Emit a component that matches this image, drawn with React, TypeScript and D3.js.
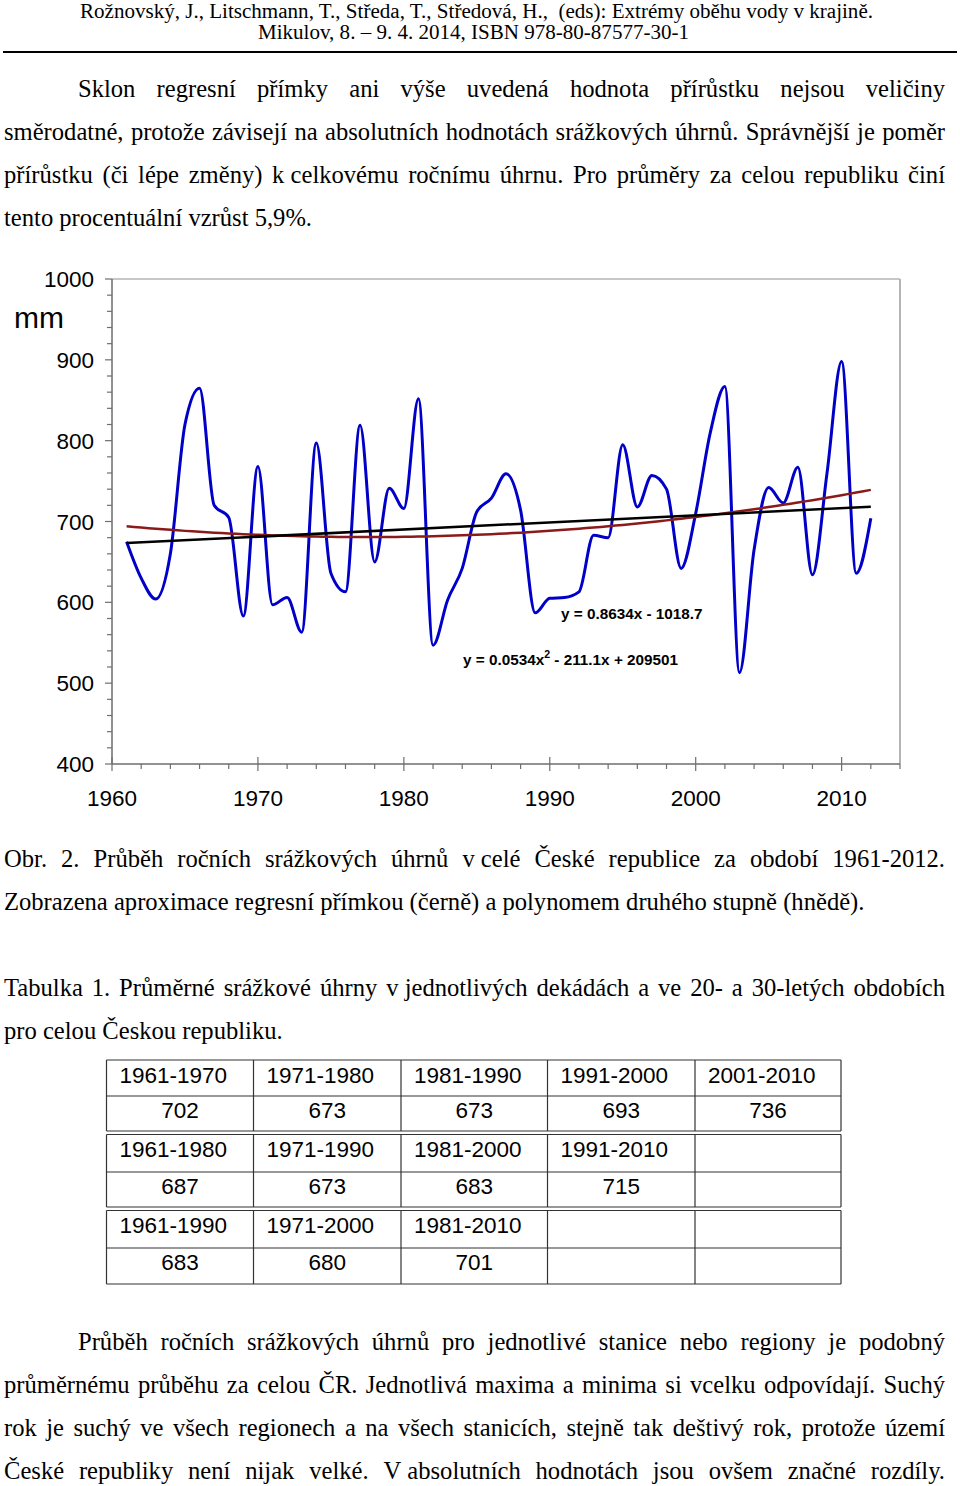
import React, { useMemo } from 'react';
import * as d3 from 'd3';

// ---------------- DATA ----------------
const startYear = 1961;
const precip = [
  675, 630, 604, 660, 820, 865, 720, 705, 583, 768,
  597, 606, 563, 797, 636, 613, 819, 650, 741, 716,
  852, 547, 603, 642, 712, 729, 759, 714, 587, 605,
  606, 613, 683, 680, 795, 718, 757, 740, 642, 710,
  810, 867, 513, 665, 742, 723, 767, 634, 760, 898,
  636, 704,
];
const yMajorTicks = [400, 500, 600, 700, 800, 900, 1000];
const xMajorTicks = [1960, 1970, 1980, 1990, 2000, 2010];
const linEquation = 'y = 0.8634x - 1018.7';
const polyEqParts = ['y = 0.0534x', '2', ' - 211.1x + 209501'];

const tableHeaders = [
  ['1961-1970', '1971-1980', '1981-1990', '1991-2000', '2001-2010'],
  ['1961-1980', '1971-1990', '1981-2000', '1991-2010', ''],
  ['1961-1990', '1971-2000', '1981-2010', '', ''],
];
const tableValues = [
  ['702', '673', '673', '693', '736'],
  ['687', '673', '683', '715', ''],
  ['683', '680', '701', '', ''],
];

const headerLine1 = 'Rožnovský, J., Litschmann, T., Středa, T., Středová, H.,  (eds): Extrémy oběhu vody v krajině.';
const headerLine2 = 'Mikulov, 8. – 9. 4. 2014, ISBN 978-80-87577-30-1';

const para1 = [
  'Sklon regresní přímky ani výše uvedená hodnota přírůstku nejsou veličiny',
  'směrodatné, protože závisejí na absolutních hodnotách srážkových úhrnů. Správnější je poměr',
  'přírůstku (či lépe změny) k\u00a0celkovému ročnímu úhrnu. Pro průměry za celou republiku činí',
  'tento procentuální vzrůst 5,9%.',
];
const caption = [
  'Obr. 2. Průběh ročních srážkových úhrnů v\u00a0celé České republice za období 1961-2012.',
  'Zobrazena aproximace regresní přímkou (černě) a polynomem druhého stupně (hnědě).',
];
const tableCaption = [
  'Tabulka 1. Průměrné srážkové úhrny v\u00a0jednotlivých dekádách a ve 20- a 30-letých obdobích',
  'pro celou Českou republiku.',
];
const para2 = [
  'Průběh ročních srážkových úhrnů pro jednotlivé stanice nebo regiony je podobný',
  'průměrnému průběhu za celou ČR. Jednotlivá maxima a minima si vcelku odpovídají. Suchý',
  'rok je suchý ve všech regionech a na všech stanicích, stejně tak deštivý rok, protože území',
  'České republiky není nijak velké. V\u00a0absolutních hodnotách jsou ovšem značné rozdíly.',
];

// ---------------- HELPERS ----------------
const SERIF = "'Liberation Serif', 'Times New Roman', serif";
const SANS = "'Liberation Sans', Arial, sans-serif";
const BODY_SIZE = 24.6;

let _ctx: CanvasRenderingContext2D | null = null;
function measure(text: string, font: string) {
  if (!_ctx) _ctx = document.createElement('canvas').getContext('2d');
  _ctx!.font = font;
  return _ctx!.measureText(text).width;
}

function Line({ text, x0, x1, y, justify }: { text: string; x0: number; x1: number; y: number; justify: boolean }) {
  if (!justify) {
    return (
      <text x={x0} y={y} fontFamily={SERIF} fontSize={BODY_SIZE} fill="#000" style={{ whiteSpace: 'pre' }}>
        {text}
      </text>
    );
  }
  const font = `${BODY_SIZE}px ${SERIF}`;
  const words = text.split(' ');
  const widths = words.map((w) => measure(w, font));
  const total = d3.sum(widths);
  const gap = words.length > 1 ? (x1 - x0 - total) / (words.length - 1) : 0;
  let x = x0;
  return (
    <g>
      {words.map((w, i) => {
        const el = (
          <text key={i} x={x} y={y} fontFamily={SERIF} fontSize={BODY_SIZE} fill="#000" style={{ whiteSpace: 'pre' }}>
            {w}
          </text>
        );
        x += widths[i] + gap;
        return el;
      })}
    </g>
  );
}

function linearFit(xs: number[], ys: number[]) {
  const mx = d3.mean(xs)!;
  const my = d3.mean(ys)!;
  let sxy = 0, sxx = 0;
  xs.forEach((x, i) => { sxy += (x - mx) * (ys[i] - my); sxx += (x - mx) * (x - mx); });
  const b = sxy / sxx;
  return (x: number) => my + b * (x - mx);
}

function quadFit(xs: number[], ys: number[]) {
  const mx = d3.mean(xs)!;
  const t = xs.map((x) => x - mx);
  const S = (p: number) => d3.sum(t, (v) => Math.pow(v, p));
  const Sy = (p: number) => d3.sum(t, (v, i) => Math.pow(v, p) * ys[i]);
  const A = [
    [S(0), S(1), S(2)],
    [S(1), S(2), S(3)],
    [S(2), S(3), S(4)],
  ];
  const B = [Sy(0), Sy(1), Sy(2)];
  const det = (m: number[][]) =>
    m[0][0] * (m[1][1] * m[2][2] - m[1][2] * m[2][1]) -
    m[0][1] * (m[1][0] * m[2][2] - m[1][2] * m[2][0]) +
    m[0][2] * (m[1][0] * m[2][1] - m[1][1] * m[2][0]);
  const D = det(A);
  const coef = [0, 1, 2].map((k) => {
    const M = A.map((row, r) => row.map((v, c) => (c === k ? B[r] : v)));
    return det(M) / D;
  });
  return (x: number) => coef[0] + coef[1] * (x - mx) + coef[2] * (x - mx) * (x - mx);
}

// ---------------- CHART ----------------
function Chart() {
  const x = d3.scaleLinear().domain([1960, 2014]).range([112, 900]);
  const y = d3.scaleLinear().domain([400, 1000]).range([764, 279]);
  const years = precip.map((_, i) => startYear + i);
  const pts: [number, number][] = years.map((yr, i) => [yr, precip[i]]);

  const lineGen = d3
    .line<[number, number]>()
    .x((d) => x(d[0]))
    .y((d) => y(d[1]))
    .curve(d3.curveMonotoneX);
  const plainLine = d3
    .line<[number, number]>()
    .x((d) => x(d[0]))
    .y((d) => y(d[1]));

  const lin = linearFit(years, precip);
  const quad = quadFit(years, precip);
  const y0 = years[0];
  const y1 = years[years.length - 1];
  const samples = d3.range(y0, y1 + 0.001, 0.5);
  const linPts: [number, number][] = [[y0, lin(y0)], [y1, lin(y1)]];
  const quadPts: [number, number][] = samples.map((s) => [s, quad(s)]);

  const yMinor = d3.range(400, 1001, 20);
  const xMinor = d3.range(1960, 2015, 2);

  const axisColor = '#6e6e6e';
  const frameColor = '#b4b4b4';

  return (
    <g>
      {/* frame */}
      <line x1={x(1960)} x2={x(2014)} y1={y(1000)} y2={y(1000)} stroke={frameColor} strokeWidth={1.5} />
      <line x1={x(2014)} x2={x(2014)} y1={y(1000)} y2={y(400)} stroke={frameColor} strokeWidth={2} />
      {/* axes */}
      <line x1={x(1960)} x2={x(1960)} y1={y(1000)} y2={y(400)} stroke={axisColor} strokeWidth={1.5} />
      <line x1={x(1960)} x2={x(2014)} y1={y(400)} y2={y(400)} stroke={axisColor} strokeWidth={1.5} />
      {yMinor.map((v) => (
        <line key={'ym' + v} x1={x(1960) - (v % 100 === 0 ? 7 : 5)} x2={x(1960)} y1={y(v)} y2={y(v)} stroke={axisColor} strokeWidth={1.2} />
      ))}
      {xMinor.map((v) => (
        <line key={'xm' + v} x1={x(v)} x2={x(v)} y1={y(400) + (v % 10 === 0 ? -7 : 0)} y2={y(400) + (v % 10 === 0 ? 7 : 5)} stroke={axisColor} strokeWidth={1.2} />
      ))}
      {yMajorTicks.map((v) => (
        <text key={'yl' + v} x={94} y={y(v) + 8} textAnchor="end" fontFamily={SANS} fontSize={22.5} fill="#000">
          {v}
        </text>
      ))}
      {xMajorTicks.map((v) => (
        <text key={'xl' + v} x={x(v)} y={806} textAnchor="middle" fontFamily={SANS} fontSize={22.5} fill="#000">
          {v}
        </text>
      ))}
      <text x={14} y={328} fontFamily={SANS} fontSize={30} fill="#000">mm</text>

      {/* series */}
      <path d={lineGen(pts)!} fill="none" stroke="#0000c8" strokeWidth={3} strokeLinejoin="round" />
      <path d={plainLine(quadPts)!} fill="none" stroke="#8b1a1a" strokeWidth={2.5} />
      <path d={plainLine(linPts)!} fill="none" stroke="#000" strokeWidth={2.5} />

      {/* equations */}
      <text x={561} y={619} fontFamily={SANS} fontWeight="bold" fontSize={15.3} fill="#000" style={{ whiteSpace: 'pre' }}>
        {linEquation}
      </text>
      <text x={463} y={665} fontFamily={SANS} fontWeight="bold" fontSize={15.3} fill="#000" style={{ whiteSpace: 'pre' }}>
        {polyEqParts[0]}
        <tspan dy={-7} fontSize={10.5}>{polyEqParts[1]}</tspan>
        <tspan dy={7}>{polyEqParts[2]}</tspan>
      </text>
    </g>
  );
}

// ---------------- TABLE ----------------
function Table() {
  const cols = [106.5, 253.5, 401, 547.5, 695, 841];
  const blocks = [
    [1060, 1096, 1131],
    [1134.5, 1172, 1207],
    [1210.5, 1248, 1284],
  ];
  const stroke = '#333';
  return (
    <g>
      {blocks.map((b, bi) => (
        <g key={bi}>
          {b.map((yy, k) => (
            <line key={k} x1={cols[0]} x2={cols[5]} y1={yy} y2={yy} stroke={stroke} strokeWidth={1.2} />
          ))}
          {cols.map((cx, k) => (
            <line key={'c' + k} x1={cx} x2={cx} y1={b[0]} y2={b[2]} stroke={stroke} strokeWidth={1.2} />
          ))}
          {tableHeaders[bi].map((t, k) => (
            <text key={'h' + k} x={cols[k] + 13} y={b[0] + 22.5} fontFamily={SANS} fontSize={22.5} fill="#000">
              {t}
            </text>
          ))}
          {tableValues[bi].map((t, k) => (
            <text key={'v' + k} x={(cols[k] + cols[k + 1]) / 2} y={b[1] + 22} textAnchor="middle" fontFamily={SANS} fontSize={22.5} fill="#000">
              {t}
            </text>
          ))}
        </g>
      ))}
    </g>
  );
}

export default function App() {
  const dummy = useMemo(() => 0, []);
  return (
    <svg
      width={960}
      height={1486}
      viewBox="0 0 960 1486"
      style={{ position: 'absolute', left: 0, top: 0, background: '#fff' }}
    >
      <rect x={0} y={0} width={960} height={1486} fill="#fff" />
      {/* header */}
      <text x={80} y={18} fontFamily={SERIF} fontSize={20} textLength={793} lengthAdjust="spacingAndGlyphs" style={{ whiteSpace: 'pre' }}>
        {headerLine1}
      </text>
      <text x={258} y={39} fontFamily={SERIF} fontSize={20} textLength={431} lengthAdjust="spacingAndGlyphs">
        {headerLine2}
      </text>
      <line x1={3} x2={957} y1={52} y2={52} stroke="#000" strokeWidth={2} />

      {para1.map((t, i) => (
        <Line key={'p1' + i} text={t} x0={i === 0 ? 78 : 4} x1={945} y={97 + i * 43} justify={i < para1.length - 1} />
      ))}

      <Chart />

      {caption.map((t, i) => (
        <Line key={'c' + i} text={t} x0={4} x1={945} y={867 + i * 43} justify={i === 0} />
      ))}
      {tableCaption.map((t, i) => (
        <Line key={'t' + i} text={t} x0={4} x1={945} y={996 + i * 43} justify={i === 0} />
      ))}

      <Table />

      {para2.map((t, i) => (
        <Line key={'p2' + i} text={t} x0={i === 0 ? 78 : 4} x1={945} y={1350 + i * 43 + dummy} justify={true} />
      ))}
    </svg>
  );
}
